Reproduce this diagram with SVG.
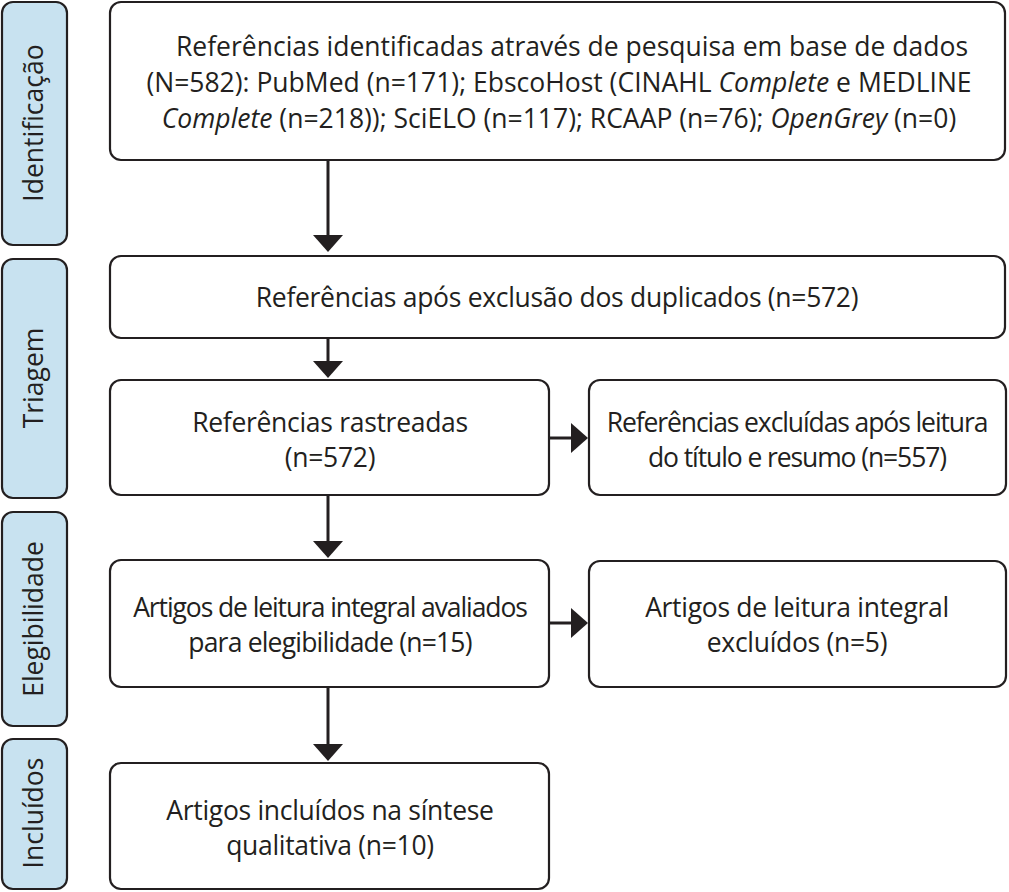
<svg xmlns="http://www.w3.org/2000/svg" width="1009" height="892" viewBox="0 0 1009 892">
<defs>
<style>
.side{fill:#c8e2f0;stroke:#231f20;stroke-width:2.2}
.box{fill:#fff;stroke:#231f20;stroke-width:2.2}
.t{font-family:"Open Sans","Liberation Sans",sans-serif;font-size:26.5px;fill:#231f20;text-anchor:middle;letter-spacing:-0.3px}
.tt{letter-spacing:-1.1px}
.tw{letter-spacing:0px}
.s{font-family:"Open Sans","Liberation Sans",sans-serif;font-size:26.5px;fill:#231f20;text-anchor:middle}
.c{stroke:#231f20;stroke-width:3;fill:none}
.h{fill:#231f20}
</style>
</defs>
<rect width="1009" height="892" fill="#fff"/>
<g id="side-identificacao"><rect class="side" x="2" y="2" width="65" height="243" rx="11"/><text class="s" transform="translate(43,123) rotate(-90)">Identificação</text></g>
<g id="side-triagem"><rect class="side" x="2" y="259" width="65" height="239" rx="11"/><text class="s" transform="translate(43,378) rotate(-90)">Triagem</text></g>
<g id="side-elegibilidade"><rect class="side" x="2" y="512" width="65" height="214" rx="11"/><text class="s" transform="translate(43,619) rotate(-90)">Elegibilidade</text></g>
<g id="side-incluidos"><rect class="side" x="2" y="739" width="65" height="150" rx="11"/><text class="s" transform="translate(43,813) rotate(-90)">Incluídos</text></g>

<g id="n1"><rect class="box" x="110" y="2" width="895" height="158" rx="11"/>
<text class="t tw" x="572" y="56">Referências identificadas através de pesquisa em base de dados</text>
<text class="t tw" x="559" y="92">(N=582): PubMed (n=171); EbscoHost (CINAHL <tspan font-style="italic">Complete</tspan> e MEDLINE</text>
<text class="t tw" x="559" y="128"><tspan font-style="italic">Complete</tspan> (n=218)); SciELO (n=117); RCAAP (n=76); <tspan font-style="italic">OpenGrey</tspan> (n=0)</text></g>
<g id="n2"><rect class="box" x="110" y="256" width="895" height="82" rx="11"/>
<text class="t" x="557" y="307">Referências após exclusão dos duplicados (n=572)</text></g>
<g id="n3"><rect class="box" x="110" y="380" width="439" height="115" rx="11"/>
<text class="t" x="330" y="432">Referências rastreadas</text>
<text class="t" x="330" y="467">(n=572)</text></g>
<g id="n4"><rect class="box" x="589" y="380" width="417" height="115" rx="11"/>
<text class="t tt" x="797" y="432">Referências excluídas após leitura</text>
<text class="t tt" x="797" y="467">do título e resumo (n=557)</text></g>
<g id="n5"><rect class="box" x="110" y="560" width="439" height="127" rx="11"/>
<text class="t tt" x="330" y="617">Artigos de leitura integral avaliados</text>
<text class="t" x="330" y="652" style="letter-spacing:-0.8px">para elegibilidade (n=15)</text></g>
<g id="n6"><rect class="box" x="589" y="561" width="417" height="126" rx="11"/>
<text class="t" x="797" y="617">Artigos de leitura integral</text>
<text class="t" x="797" y="652">excluídos (n=5)</text></g>
<g id="n7"><rect class="box" x="110" y="763" width="439" height="126" rx="11"/>
<text class="t" x="330" y="820">Artigos incluídos na síntese</text>
<text class="t" x="330" y="855">qualitativa (n=10)</text></g>

<g id="connectors">
<path class="c" d="M328 160V236"/><path class="h" d="M313 235H343L328 252Z"/>
<path class="c" d="M328 338V362"/><path class="h" d="M313 361H343L328 378Z"/>
<path class="c" d="M328 495V542"/><path class="h" d="M313 541H343L328 558Z"/>
<path class="c" d="M328 687V745"/><path class="h" d="M313 744H343L328 761Z"/>
<path class="c" d="M549 438H572"/><path class="h" d="M571 423V453L588 438Z"/>
<path class="c" d="M549 623H572"/><path class="h" d="M571 608V638L588 623Z"/>
</g>
</svg>
